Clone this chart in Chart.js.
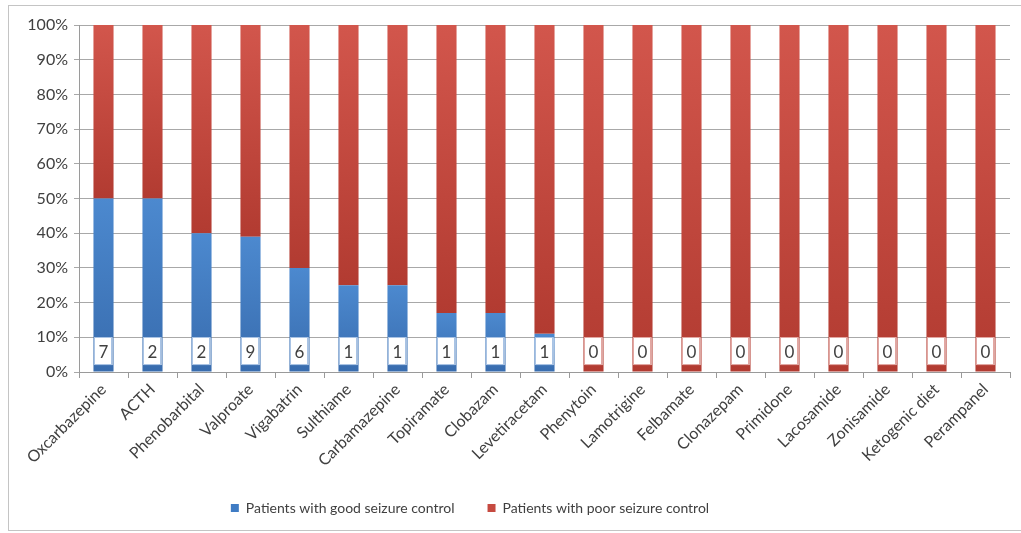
<!DOCTYPE html>
<html>
<head>
<meta charset="utf-8">
<script src="https://cdn.jsdelivr.net/npm/chart.js@4.4.1/dist/chart.umd.min.js"></script>
<style>
	html, body { margin: 0; padding: 0; background: #fff; overflow: hidden; }
	#frame { position: absolute; left: 8px; top: 5px; width: 1100px; height: 524px; border: 1px solid #c4c4c4; }
	#wrap { position: absolute; left: 0; top: 0; width: 1021px; height: 533px; }
</style>
</head>
<body>
<div id="frame"></div>
<div id="wrap"><canvas id="myChart"></canvas></div>
<script>
const drugs = ['Oxcarbazepine', 'ACTH', 'Phenobarbital', 'Valproate', 'Vigabatrin', 'Sulthiame', 'Carbamazepine', 'Topiramate', 'Clobazam', 'Levetiracetam', 'Phenytoin', 'Lamotrigine', 'Felbamate', 'Clonazepam', 'Primidone', 'Lacosamide', 'Zonisamide', 'Ketogenic diet', 'Perampanel'];
const goodPct = [50, 50, 40, 39, 30, 25, 25, 17, 17, 11, 0, 0, 0, 0, 0, 0, 0, 0, 0];
const poorPct = [50, 50, 60, 61, 70, 75, 75, 83, 83, 89, 100, 100, 100, 100, 100, 100, 100, 100, 100];
const goodCount = [7, 2, 2, 9, 6, 1, 1, 1, 1, 1, 0, 0, 0, 0, 0, 0, 0, 0, 0];
const yTicks = [0, 10, 20, 30, 40, 50, 60, 70, 80, 90, 100];

const FONT = 'Lato, "Liberation Sans", sans-serif';
const TEXT = '#404040';

// vertical shading for each segment, lighter on top
function segmentFill(light, dark, which) {
	return (context) => {
		const chart = context.chart;
		const y = chart.scales && chart.scales.y;
		if (context.dataIndex === undefined || !y || !chart.chartArea) return dark;
		const g = goodPct[context.dataIndex];
		const lo = which === 'good' ? 0 : g;
		const hi = which === 'good' ? g : 100;
		const top = y.getPixelForValue(hi);
		const bottom = y.getPixelForValue(lo);
		if (!isFinite(top) || !isFinite(bottom) || bottom - top < 1) return dark;
		const grad = chart.ctx.createLinearGradient(0, top, 0, bottom);
		grad.addColorStop(0, light);
		grad.addColorStop(1, dark);
		return grad;
	};
}

// white count boxes at the base of each bar
const countBoxes = {
	id: 'countBoxes',
	afterDatasetsDraw(chart) {
		const ctx = chart.ctx;
		const y = chart.scales.y;
		const meta = chart.getDatasetMeta(0);
		const top = y.getPixelForValue(10);
		const bottom = y.getPixelForValue(2);
		ctx.save();
		meta.data.forEach((bar, i) => {
			const w = bar.width - 2;
			const left = bar.x - w / 2;
			ctx.fillStyle = '#ffffff';
			ctx.fillRect(left, top, w, bottom - top);
			ctx.strokeStyle = goodCount[i] > 0 ? '#a9c3e4' : '#e2a7a2';
			ctx.lineWidth = 1;
			ctx.strokeRect(Math.round(left) + 0.5, Math.round(top) + 0.5, Math.round(w) - 1, Math.round(bottom - top) - 1);
			ctx.fillStyle = TEXT;
			ctx.font = '17px ' + FONT;
			ctx.textAlign = 'center';
			ctx.textBaseline = 'middle';
			ctx.fillText(String(goodCount[i]), bar.x, (top + bottom) / 2 + 1);
		});
		ctx.restore();
	}
};

// the legend sits a little left of centre in the original
const legendShift = {
	id: 'legendShift',
	afterLayout(chart) {
		const lg = chart.legend;
		if (!lg) return;
		lg.left -= 41;
		lg.right -= 41;
	}
};

const ctx = document.getElementById('myChart');
new Chart(ctx, {
	type: 'bar',
	data: {
		labels: drugs,
		datasets: [{
			label: 'Patients with good seizure control',
			data: goodPct,
			backgroundColor: segmentFill('#4c89cf', '#386cae', 'good'),
			borderWidth: 0,
			barPercentage: 0.41,
			categoryPercentage: 1
		}, {
			label: 'Patients with poor seizure control',
			data: poorPct,
			backgroundColor: segmentFill('#d2564c', '#b23b31', 'poor'),
			borderWidth: 0,
			barPercentage: 0.41,
			categoryPercentage: 1
		}]
	},
	options: {
		responsive: true,
		maintainAspectRatio: false,
		animation: false,
		layout: {
			padding: { left: 12, right: 11, top: 25, bottom: 8 }
		},
		plugins: {
			tooltip: { enabled: false },
			legend: {
				position: 'bottom',
				labels: {
					generateLabels(chart) {
						return chart.data.datasets.map((ds, i) => ({
							text: ds.label,
							fillStyle: i === 0 ? '#3f7cc4' : '#c64a40',
							strokeStyle: 'transparent',
							lineWidth: 0,
							fontColor: TEXT,
							datasetIndex: i
						}));
					},
					boxWidth: 8,
					boxHeight: 8,
					padding: 33,
					color: TEXT,
					font: { family: FONT, size: 14 }
				}
			}
		},
		scales: {
			x: {
				stacked: true,
				grid: {
					offset: true,
					drawOnChartArea: false,
					drawTicks: true,
					tickLength: 6,
					color: '#9a9a9a'
				},
				border: { color: '#9a9a9a' },
				ticks: {
					minRotation: 45,
					maxRotation: 45,
					color: TEXT,
					font: { family: FONT, size: 16 },
					padding: 2
				},
				afterFit(scale) { scale.height = 96; }
			},
			y: {
				stacked: true,
				min: 0,
				max: 100,
				afterBuildTicks(scale) {
					scale.ticks = yTicks.map(v => ({ value: v }));
				},
				grid: {
					color: '#a8a8a8',
					tickLength: 5
				},
				border: { color: '#9a9a9a' },
				ticks: {
					color: TEXT,
					font: { family: FONT, size: 16 },
					padding: 6,
					callback: (v) => v + '%'
				},
				afterFit(scale) { scale.width = 67; }
			}
		}
	},
	plugins: [countBoxes, legendShift]
});
</script>
</body>
</html>
